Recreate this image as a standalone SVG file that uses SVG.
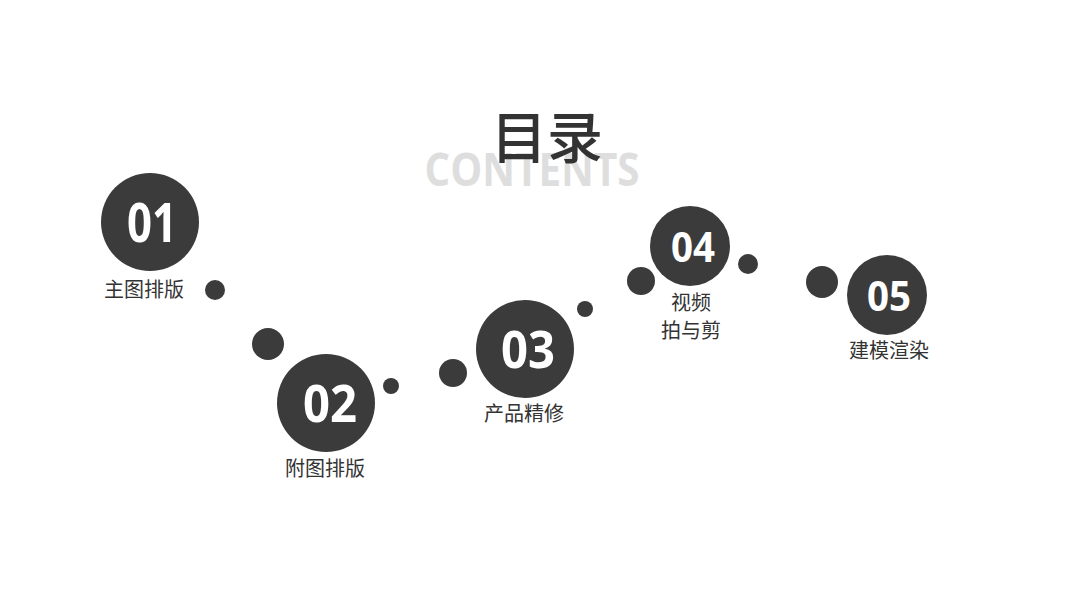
<svg xmlns="http://www.w3.org/2000/svg" width="1068" height="600" viewBox="0 0 1068 600">
<style>
.big{fill:#3b3b3b}
.dot{fill:#3b3b3b}
.num{fill:#ffffff;font-family:"Open Sans","Liberation Sans",sans-serif;font-weight:700;text-anchor:middle}
.lbl{fill:#333333;font-family:"Noto Sans CJK SC","Noto Sans",sans-serif;font-size:20px;text-anchor:middle}
</style>
<rect width="1068" height="600" fill="#ffffff"/>
<g id="title">
<text x="532" y="186" font-family="Open Sans,Liberation Sans,sans-serif" font-weight="700" font-size="46" fill="#dedede" text-anchor="middle" textLength="215" lengthAdjust="spacingAndGlyphs">CONTENTS</text>
<text x="547" y="158" font-family="Noto Sans CJK SC,sans-serif" font-weight="500" font-size="56" fill="#333333" text-anchor="middle">目录</text>
</g>
<g id="connectors">
<circle class="dot" cx="215" cy="290" r="10"/>
<circle class="dot" cx="268" cy="344" r="16"/>
<circle class="dot" cx="391" cy="386" r="8"/>
<circle class="dot" cx="453" cy="373" r="14"/>
<circle class="dot" cx="585" cy="309" r="8"/>
<circle class="dot" cx="641" cy="281" r="14"/>
<circle class="dot" cx="748" cy="264" r="10"/>
<circle class="dot" cx="822" cy="282" r="16"/>
</g>
<g id="node01">
<circle class="big" cx="150" cy="222" r="49"/>
<text class="num" x="152" y="242" font-size="54" textLength="50" lengthAdjust="spacingAndGlyphs">01</text>
<text class="lbl" x="144" y="297">主图排版</text>
</g>
<g id="node02">
<circle class="big" cx="326" cy="403" r="49"/>
<text class="num" x="330" y="422" font-size="52" textLength="54" lengthAdjust="spacingAndGlyphs">02</text>
<text class="lbl" x="325" y="476">附图排版</text>
</g>
<g id="node03">
<circle class="big" cx="525" cy="349" r="49"/>
<text class="num" x="528" y="368" font-size="52" textLength="54" lengthAdjust="spacingAndGlyphs">03</text>
<text class="lbl" x="524" y="421">产品精修</text>
</g>
<g id="node04">
<circle class="big" cx="690" cy="246" r="40"/>
<text class="num" x="693" y="262" font-size="42" textLength="44" lengthAdjust="spacingAndGlyphs">04</text>
<text class="lbl" x="691" y="310">视频</text>
<text class="lbl" x="691" y="338">拍与剪</text>
</g>
<g id="node05">
<circle class="big" cx="887" cy="295" r="40"/>
<text class="num" x="889" y="311" font-size="42" textLength="44" lengthAdjust="spacingAndGlyphs">05</text>
<text class="lbl" x="889" y="358">建模渲染</text>
</g>
</svg>
